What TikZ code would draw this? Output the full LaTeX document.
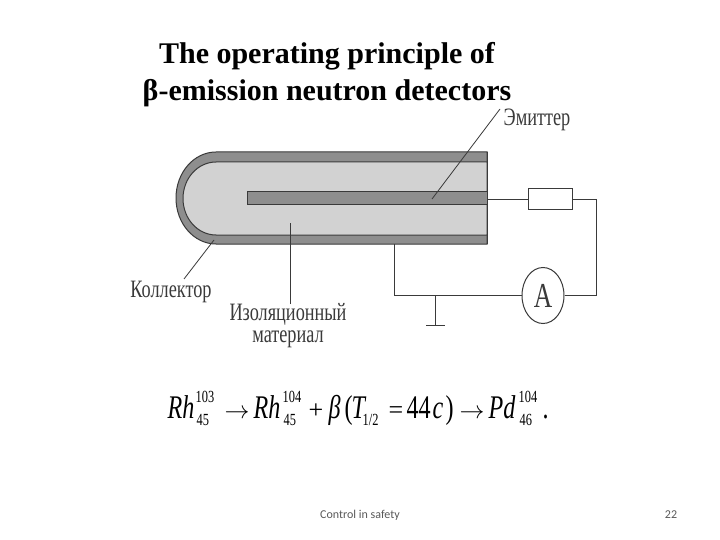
\documentclass[tikz,border=0pt]{standalone}
\usepackage{fontspec}
\usetikzlibrary{shapes.geometric}
\setmainfont{Liberation Serif}
\newfontfamily\footfont{Carlito}
\newfontfamily\narrowfont[FakeStretch=0.73]{Liberation Serif}
\newfontfamily\narrowit[FakeStretch=0.73]{Liberation Serif Italic}
% place a piece of the formula at an absolute page x (formula starts at x=168)
\newcommand{\putat}[2]{\rlap{\hspace{\dimexpr#1pt-168pt\relax}#2}}
\newcommand{\scr}[2]{\raisebox{#1pt}{\fontsize{17}{17}\selectfont\narrowfont #2}}
\definecolor{shell}{HTML}{8E8E8E}
\definecolor{insul}{HTML}{D2D2D2}
\definecolor{ink}{HTML}{3A3A3A}
\tikzset{
  px/.style={x=1pt,y=-1pt},
  part/.style={draw=ink,line width=1pt},
  wire/.style={draw=ink,line width=1pt},
  leader/.style={draw=ink,line width=0.8pt},
  ru/.style={font=\narrowfont\fontsize{25}{22}\selectfont,text=ink,inner sep=0pt,align=center},
  foot/.style={font=\footfont\fontsize{12}{14}\selectfont,text=black!65,inner sep=0pt},
  titletext/.style={font=\fontsize{30}{37}\selectfont\bfseries,align=center,inner sep=0pt}
}
\begin{document}
\begin{tikzpicture}[px]
\useasboundingbox[fill=white] (0,0) rectangle (720,540);
\node[titletext] (title) at (327,75) {The operating principle of\\β-emission neutron detectors};
% collector and insulator
\filldraw[part,fill=shell] (487,152) -- (216,152) arc[start angle=270,end angle=90,x radius=40,y radius=46] -- (487,244) -- cycle;
\filldraw[part,fill=insul] (487,162) -- (216,162) arc[start angle=270,end angle=90,x radius=33,y radius=36.5] -- (487,235) -- cycle;
\filldraw[part,fill=shell] (487,192) -- (247,192) -- (247,205) -- (487,205) -- cycle;
\draw[part] (487,152) -- (487,244);
% anchors
\coordinate (emend) at (487,199.5);
\coordinate (collbase) at (394,244);
\coordinate (corner1) at (394,295.5);
\coordinate (corner2) at (596,199.5);
\coordinate (corner3) at (596,295.5);
\coordinate (gndtop) at (435,295.5);
\coordinate (gndbot) at (435,325);
\coordinate (gndl) at (426,325);
\coordinate (gndr) at (445,325);
\node[draw=ink,line width=1pt,fill=white,minimum width=44pt,minimum height=21pt,inner sep=0pt] (res) at (550,199.5) {};
\node[ellipse,draw=ink,line width=1pt,fill=white,minimum width=42pt,minimum height=56pt,inner sep=0pt,font=\narrowfont\fontsize{35}{35}\selectfont,text=ink] (amm) at (543,295.5) {A};
\draw[wire] (emend) -- (res.west);
\draw[wire] (res.east) -- (corner2) -- (corner3) -- (amm.east);
\draw[wire] (collbase) -- (corner1) -- (amm.west);
\draw[wire] (gndtop) -- (gndbot);
\draw[wire] (gndl) -- (gndr);
% labels and leaders
\node[ru] (em) at (537,120) {Эмиттер};
\node[ru] (kol) at (171,292) {Коллектор};
\node[ru] (izo) at (288,326) {Изоляционный\\материал};
\coordinate (emtip) at (432,199);
\coordinate (emfree) at (500,109);
\coordinate (koltip) at (214,240);
\coordinate (kolfree) at (184,279);
\coordinate (izotip) at (290,223);
\coordinate (izofree) at (290,304);
\draw[leader] (emfree) -- (emtip);
\draw[leader] (kolfree) -- (koltip);
\draw[leader] (izofree) -- (izotip);
% formula
\node[inner sep=0pt,anchor=base west,font=\narrowfont\fontsize{33}{33}\selectfont,text=black] (formula) at (168,418) {%
\putat{167}{{\narrowit Rh}}%
\putat{195}{\scr{16}{103}}\putat{196}{\scr{-7}{45}}%
\putat{224}{\fontsize{26}{26}\selectfont$\rightarrow$}%
\putat{253}{{\narrowit Rh}}%
\putat{282}{\scr{16}{104}}\putat{283}{\scr{-7}{45}}%
\putat{308}{\fontsize{26}{26}\selectfont\rmfamily +}%
\putat{328}{{\narrowit β}}%
\putat{344}{(}%
\putat{351}{{\narrowit T}}%
\putat{362}{\scr{-7}{1/2}}%
\putat{388}{\fontsize{26}{26}\selectfont\rmfamily =}%
\putat{406}{44}%
\putat{432}{{\narrowit c}}%
\putat{445}{)}%
\putat{459}{\fontsize{26}{26}\selectfont$\rightarrow$}%
\putat{488}{{\narrowit Pd}}%
\putat{518}{\scr{16}{104}}\putat{519}{\scr{-7}{46}}%
\putat{542}{.}%
\hspace{385pt}};
% footer
\node[foot] (ftxt) at (360,515) {Control in safety};
\node[foot] (fnum) at (671,515) {22};
\end{tikzpicture}
\end{document}
